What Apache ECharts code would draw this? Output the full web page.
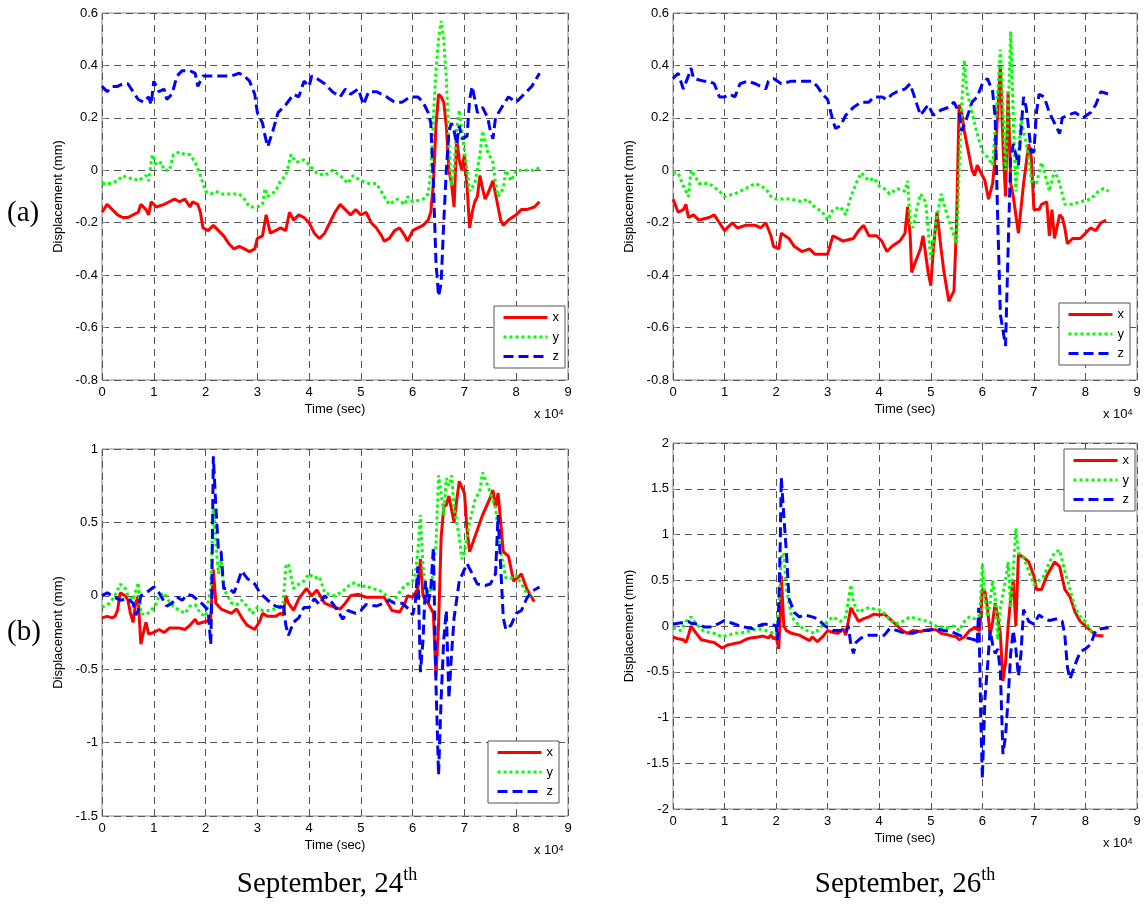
<!DOCTYPE html>
<html>
<head>
<meta charset="utf-8">
<script src="https://cdn.jsdelivr.net/npm/echarts@6/dist/echarts.min.js"></script>
<style>
html,body{margin:0;padding:0;background:#fff;}
#chart{width:1145px;height:905px;}
</style>
</head>
<body>
<div id="chart"></div>
<script>
// Time values are in units of 10^4 sec, displacement in mm
const xTicks = [0,1,2,3,4,5,6,7,8,9];
const seriesNames = ['x','y','z'];
const panelTitles = ['September, 24', 'September, 26'];
const rowLabels = ['(a)', '(b)'];

// (a) September 24
const sep24a_x = [[0,-0.16],[0.1,-0.13],[0.2,-0.15],[0.3,-0.17],[0.4,-0.18],[0.5,-0.18],[0.6,-0.17],[0.7,-0.16],[0.75,-0.13],[0.85,-0.15],[0.9,-0.17],[0.95,-0.12],[1.05,-0.14],[1.2,-0.13],[1.3,-0.12],[1.4,-0.11],[1.5,-0.12],[1.6,-0.11],[1.7,-0.14],[1.75,-0.12],[1.85,-0.13],[1.9,-0.16],[1.95,-0.22],[2.05,-0.23],[2.15,-0.21],[2.25,-0.23],[2.35,-0.25],[2.45,-0.28],[2.55,-0.30],[2.65,-0.29],[2.75,-0.30],[2.85,-0.31],[2.95,-0.30],[3.0,-0.26],[3.1,-0.25],[3.17,-0.17],[3.25,-0.24],[3.35,-0.23],[3.45,-0.22],[3.55,-0.23],[3.62,-0.16],[3.7,-0.19],[3.8,-0.17],[3.9,-0.18],[4.0,-0.20],[4.1,-0.24],[4.2,-0.26],[4.3,-0.24],[4.4,-0.20],[4.5,-0.16],[4.6,-0.13],[4.7,-0.15],[4.8,-0.17],[4.9,-0.15],[5.0,-0.17],[5.1,-0.16],[5.2,-0.20],[5.3,-0.22],[5.4,-0.25],[5.45,-0.27],[5.55,-0.26],[5.65,-0.23],[5.75,-0.22],[5.85,-0.25],[5.9,-0.27],[6.0,-0.23],[6.1,-0.22],[6.2,-0.21],[6.3,-0.19],[6.35,-0.16],[6.4,-0.05],[6.45,0.17],[6.5,0.29],[6.55,0.28],[6.6,0.26],[6.65,0.17],[6.7,0.0],[6.75,-0.05],[6.8,-0.14],[6.85,0.12],[6.9,0.04],[6.95,0.0],[7.0,0.06],[7.05,-0.06],[7.1,-0.22],[7.15,-0.16],[7.2,-0.12],[7.25,-0.10],[7.3,-0.02],[7.35,-0.07],[7.4,-0.11],[7.45,-0.09],[7.55,-0.04],[7.6,-0.09],[7.65,-0.14],[7.7,-0.19],[7.75,-0.21],[7.85,-0.19],[8.0,-0.17],[8.1,-0.15],[8.2,-0.15],[8.35,-0.14],[8.45,-0.12]];
const sep24a_y = [[0,-0.05],[0.15,-0.05],[0.3,-0.04],[0.4,-0.02],[0.5,-0.03],[0.6,-0.03],[0.7,-0.04],[0.85,-0.02],[0.9,-0.04],[0.97,0.06],[1.05,0.02],[1.15,0.03],[1.2,0.0],[1.3,0.0],[1.38,0.06],[1.5,0.07],[1.6,0.06],[1.7,0.06],[1.8,0.03],[1.9,-0.02],[2.0,-0.08],[2.1,-0.09],[2.2,-0.08],[2.3,-0.09],[2.5,-0.09],[2.65,-0.09],[2.75,-0.11],[2.85,-0.14],[3.0,-0.14],[3.1,-0.13],[3.15,-0.07],[3.2,-0.10],[3.35,-0.08],[3.45,-0.04],[3.55,-0.02],[3.65,0.06],[3.75,0.03],[3.9,0.04],[4.0,0.02],[4.15,-0.01],[4.3,-0.02],[4.45,0.0],[4.6,-0.02],[4.75,-0.05],[4.85,-0.02],[5.0,-0.04],[5.15,-0.05],[5.3,-0.05],[5.45,-0.10],[5.55,-0.13],[5.7,-0.11],[5.85,-0.13],[5.9,-0.10],[6.0,-0.12],[6.2,-0.11],[6.3,-0.09],[6.35,0.0],[6.4,0.2],[6.45,0.38],[6.5,0.50],[6.55,0.57],[6.6,0.50],[6.65,0.35],[6.7,0.1],[6.75,-0.06],[6.8,0.0],[6.85,0.16],[6.9,0.23],[6.95,0.15],[7.05,0.0],[7.1,-0.08],[7.2,-0.05],[7.3,0.06],[7.35,0.15],[7.45,0.07],[7.55,0.03],[7.6,-0.05],[7.65,-0.10],[7.75,-0.07],[7.8,0.0],[7.9,-0.04],[8.0,0.0],[8.2,0.0],[8.35,0.0],[8.45,0.01]];
const sep24a_z = [[0,0.32],[0.1,0.30],[0.2,0.32],[0.3,0.32],[0.4,0.33],[0.5,0.33],[0.6,0.30],[0.7,0.27],[0.8,0.26],[0.9,0.28],[0.95,0.25],[1.0,0.34],[1.1,0.30],[1.2,0.31],[1.25,0.27],[1.35,0.29],[1.45,0.36],[1.55,0.38],[1.7,0.38],[1.8,0.37],[1.85,0.32],[1.95,0.36],[2.1,0.36],[2.3,0.36],[2.5,0.36],[2.65,0.37],[2.75,0.36],[2.85,0.34],[2.95,0.29],[3.0,0.22],[3.1,0.18],[3.15,0.13],[3.2,0.09],[3.3,0.15],[3.4,0.22],[3.55,0.25],[3.7,0.29],[3.8,0.28],[3.9,0.34],[4.0,0.32],[4.05,0.36],[4.15,0.35],[4.3,0.33],[4.45,0.30],[4.6,0.28],[4.7,0.31],[4.8,0.29],[4.95,0.31],[5.05,0.25],[5.15,0.30],[5.3,0.30],[5.5,0.28],[5.65,0.26],[5.8,0.26],[5.95,0.28],[6.1,0.28],[6.2,0.26],[6.3,0.22],[6.35,0.18],[6.4,-0.05],[6.45,-0.35],[6.5,-0.48],[6.55,-0.43],[6.6,-0.2],[6.65,0.0],[6.7,0.15],[6.75,0.18],[6.8,0.15],[6.85,0.10],[6.9,0.17],[6.95,0.12],[7.05,0.13],[7.1,0.27],[7.15,0.32],[7.25,0.22],[7.35,0.24],[7.45,0.20],[7.5,0.15],[7.55,0.12],[7.6,0.20],[7.75,0.25],[7.85,0.28],[8.0,0.26],[8.15,0.29],[8.3,0.32],[8.45,0.37]];

// (a) September 26
const sep26a_x = [[0,-0.11],[0.1,-0.16],[0.2,-0.15],[0.25,-0.13],[0.3,-0.18],[0.4,-0.17],[0.5,-0.19],[0.7,-0.18],[0.8,-0.17],[0.9,-0.20],[1.0,-0.23],[1.15,-0.20],[1.25,-0.22],[1.4,-0.21],[1.6,-0.21],[1.7,-0.22],[1.8,-0.20],[1.9,-0.25],[1.95,-0.29],[2.05,-0.30],[2.1,-0.24],[2.25,-0.26],[2.35,-0.29],[2.5,-0.31],[2.65,-0.30],[2.75,-0.32],[2.9,-0.32],[3.0,-0.32],[3.1,-0.25],[3.2,-0.26],[3.3,-0.27],[3.5,-0.26],[3.6,-0.23],[3.7,-0.21],[3.8,-0.25],[3.95,-0.25],[4.05,-0.27],[4.15,-0.31],[4.25,-0.29],[4.4,-0.27],[4.5,-0.24],[4.55,-0.14],[4.6,-0.25],[4.63,-0.39],[4.7,-0.35],[4.8,-0.30],[4.85,-0.25],[4.95,-0.39],[5.0,-0.44],[5.05,-0.30],[5.12,-0.16],[5.2,-0.30],[5.25,-0.38],[5.35,-0.50],[5.45,-0.46],[5.5,-0.20],[5.55,0.25],[5.6,0.22],[5.65,0.15],[5.75,0.05],[5.8,0.0],[5.85,-0.02],[5.9,0.02],[6.0,-0.02],[6.05,-0.04],[6.12,-0.11],[6.2,-0.05],[6.25,0.05],[6.35,0.40],[6.4,0.10],[6.45,-0.10],[6.5,0.30],[6.55,-0.05],[6.6,-0.10],[6.7,-0.24],[6.8,-0.05],[6.9,0.10],[6.95,0.05],[7.0,-0.15],[7.1,-0.15],[7.15,-0.13],[7.25,-0.12],[7.3,-0.25],[7.35,-0.15],[7.4,-0.26],[7.5,-0.17],[7.55,-0.18],[7.6,-0.22],[7.65,-0.28],[7.75,-0.26],[7.9,-0.26],[8.0,-0.24],[8.1,-0.22],[8.2,-0.23],[8.3,-0.20],[8.4,-0.19]];
const sep26a_y = [[0,-0.01],[0.1,-0.01],[0.2,-0.06],[0.3,-0.10],[0.35,0.0],[0.45,-0.03],[0.5,-0.05],[0.7,-0.05],[0.9,-0.08],[1.0,-0.10],[1.2,-0.09],[1.3,-0.08],[1.4,-0.07],[1.6,-0.05],[1.8,-0.07],[1.9,-0.10],[2.0,-0.11],[2.3,-0.11],[2.5,-0.12],[2.6,-0.11],[2.75,-0.14],[2.9,-0.16],[3.0,-0.19],[3.1,-0.15],[3.25,-0.14],[3.35,-0.17],[3.45,-0.10],[3.55,-0.05],[3.65,-0.01],[3.8,-0.04],[3.9,-0.03],[4.0,-0.06],[4.1,-0.07],[4.2,-0.09],[4.35,-0.07],[4.5,-0.08],[4.55,-0.04],[4.6,-0.20],[4.65,-0.22],[4.75,-0.13],[4.8,-0.09],[4.9,-0.12],[5.0,-0.34],[5.1,-0.20],[5.2,-0.09],[5.3,-0.16],[5.4,-0.22],[5.5,-0.28],[5.55,0.0],[5.6,0.25],[5.65,0.42],[5.7,0.30],[5.8,0.22],[5.9,0.14],[6.0,0.07],[6.1,0.05],[6.2,0.02],[6.3,0.30],[6.35,0.46],[6.45,0.0],[6.5,0.22],[6.55,0.53],[6.6,0.20],[6.65,-0.08],[6.75,0.20],[6.8,0.15],[6.9,0.05],[6.95,-0.04],[7.05,-0.05],[7.15,0.03],[7.25,-0.04],[7.3,-0.08],[7.4,0.0],[7.5,-0.05],[7.6,-0.13],[7.75,-0.13],[7.9,-0.12],[8.1,-0.11],[8.25,-0.08],[8.35,-0.07],[8.45,-0.08]];
const sep26a_z = [[0,0.35],[0.1,0.37],[0.2,0.31],[0.3,0.36],[0.35,0.39],[0.4,0.35],[0.6,0.34],[0.7,0.34],[0.8,0.33],[0.9,0.28],[1.0,0.28],[1.1,0.29],[1.2,0.28],[1.3,0.33],[1.45,0.34],[1.6,0.33],[1.7,0.32],[1.8,0.31],[1.85,0.34],[1.95,0.35],[2.1,0.33],[2.3,0.34],[2.5,0.34],[2.7,0.34],[2.8,0.32],[2.9,0.29],[3.0,0.27],[3.1,0.19],[3.15,0.16],[3.25,0.17],[3.35,0.21],[3.5,0.24],[3.65,0.26],[3.8,0.26],[3.9,0.28],[4.05,0.28],[4.15,0.27],[4.25,0.29],[4.35,0.30],[4.5,0.31],[4.6,0.33],[4.7,0.27],[4.8,0.21],[4.95,0.25],[5.05,0.21],[5.2,0.23],[5.35,0.24],[5.45,0.26],[5.55,0.22],[5.6,0.15],[5.7,0.20],[5.8,0.26],[5.9,0.28],[6.0,0.33],[6.1,0.35],[6.2,0.30],[6.25,0.20],[6.3,-0.20],[6.35,-0.55],[6.45,-0.67],[6.5,-0.30],[6.55,0.05],[6.6,0.10],[6.7,0.02],[6.8,0.28],[6.85,0.24],[6.95,0.07],[7.0,0.07],[7.05,0.22],[7.1,0.29],[7.2,0.28],[7.3,0.22],[7.4,0.18],[7.5,0.14],[7.55,0.20],[7.65,0.21],[7.8,0.22],[7.95,0.20],[8.1,0.22],[8.2,0.25],[8.3,0.30],[8.45,0.29]];

// (b) September 24
const sep24b_x = [[0,-0.15],[0.1,-0.14],[0.2,-0.15],[0.25,-0.14],[0.3,-0.10],[0.35,0.02],[0.45,0.0],[0.5,-0.03],[0.55,-0.12],[0.6,-0.18],[0.65,-0.05],[0.7,0.0],[0.72,-0.15],[0.75,-0.33],[0.8,-0.25],[0.85,-0.18],[0.9,-0.26],[1.0,-0.25],[1.1,-0.23],[1.2,-0.25],[1.3,-0.22],[1.5,-0.22],[1.6,-0.23],[1.7,-0.20],[1.8,-0.16],[1.85,-0.19],[1.95,-0.18],[2.05,-0.17],[2.1,-0.15],[2.15,0.18],[2.2,-0.05],[2.3,-0.09],[2.5,-0.12],[2.6,-0.09],[2.7,-0.15],[2.8,-0.20],[2.95,-0.23],[3.05,-0.17],[3.1,-0.12],[3.2,-0.14],[3.35,-0.14],[3.45,-0.12],[3.5,-0.13],[3.55,0.0],[3.6,-0.05],[3.7,-0.10],[3.8,-0.02],[3.95,0.05],[4.05,0.0],[4.15,0.04],[4.3,-0.05],[4.5,-0.08],[4.6,-0.09],[4.7,-0.05],[4.8,0.0],[4.95,0.01],[5.1,-0.01],[5.3,-0.01],[5.45,-0.01],[5.6,-0.10],[5.75,-0.11],[5.85,-0.05],[5.9,0.0],[6.0,-0.01],[6.1,0.05],[6.15,0.25],[6.2,0.0],[6.3,-0.05],[6.4,-0.12],[6.45,-0.55],[6.5,-0.20],[6.55,0.40],[6.6,0.60],[6.65,0.62],[6.7,0.68],[6.8,0.50],[6.85,0.65],[6.9,0.78],[7.0,0.70],[7.05,0.45],[7.1,0.30],[7.2,0.40],[7.35,0.55],[7.5,0.67],[7.55,0.72],[7.6,0.60],[7.65,0.70],[7.7,0.50],[7.75,0.30],[7.85,0.27],[7.95,0.10],[8.05,0.13],[8.1,0.15],[8.2,0.05],[8.35,-0.04]];
const sep24b_y = [[0,-0.08],[0.15,-0.05],[0.25,0.0],[0.35,0.08],[0.45,0.05],[0.5,0.0],[0.6,-0.03],[0.7,0.09],[0.75,-0.12],[0.85,-0.13],[0.95,-0.10],[1.05,-0.05],[1.1,0.0],[1.2,0.02],[1.3,-0.04],[1.4,-0.08],[1.5,-0.10],[1.6,-0.12],[1.7,-0.07],[1.8,-0.06],[1.9,-0.12],[2.0,-0.14],[2.1,0.05],[2.15,0.60],[2.2,0.35],[2.25,0.15],[2.3,0.25],[2.35,0.05],[2.5,-0.05],[2.6,-0.06],[2.7,-0.03],[2.8,-0.07],[2.9,-0.12],[3.0,-0.08],[3.1,-0.10],[3.25,-0.10],[3.4,-0.08],[3.5,-0.05],[3.55,0.20],[3.6,0.22],[3.7,0.05],[3.8,0.08],[3.9,0.10],[4.0,0.15],[4.1,0.12],[4.2,0.13],[4.3,0.02],[4.5,0.0],[4.65,0.03],[4.8,0.08],[4.9,0.09],[5.0,0.06],[5.1,0.07],[5.2,0.05],[5.35,0.04],[5.5,0.0],[5.6,-0.05],[5.7,0.0],[5.8,0.05],[5.9,0.08],[6.0,0.10],[6.05,0.15],[6.1,0.30],[6.15,0.55],[6.2,0.20],[6.25,0.05],[6.35,0.02],[6.45,0.35],[6.5,0.82],[6.55,0.70],[6.6,0.55],[6.65,0.80],[6.7,0.75],[6.75,0.82],[6.8,0.60],[6.9,0.40],[6.95,0.25],[7.0,0.30],[7.1,0.50],[7.2,0.65],[7.3,0.72],[7.35,0.84],[7.45,0.75],[7.5,0.70],[7.6,0.60],[7.7,0.30],[7.8,0.12],[7.9,0.12],[8.0,0.14],[8.1,0.08],[8.2,0.02],[8.3,0.0]];
const sep24b_z = [[0,0.0],[0.1,0.02],[0.2,0.0],[0.35,-0.03],[0.5,-0.02],[0.6,-0.05],[0.65,-0.13],[0.7,-0.10],[0.75,0.0],[0.85,0.02],[1.0,0.06],[1.1,0.02],[1.25,-0.07],[1.35,-0.05],[1.45,-0.01],[1.55,-0.03],[1.65,0.01],[1.75,0.0],[1.85,-0.03],[1.95,-0.06],[2.05,-0.10],[2.1,-0.33],[2.12,0.0],[2.15,0.95],[2.2,0.60],[2.25,0.30],[2.3,0.30],[2.35,0.05],[2.45,0.05],[2.55,0.02],[2.65,0.12],[2.7,0.17],[2.8,0.12],[2.95,0.08],[3.05,0.02],[3.2,-0.03],[3.35,-0.07],[3.45,-0.08],[3.5,-0.05],[3.55,-0.20],[3.6,-0.27],[3.7,-0.18],[3.8,-0.15],[3.9,-0.08],[4.0,-0.08],[4.1,-0.02],[4.2,-0.06],[4.3,0.0],[4.45,-0.05],[4.55,-0.10],[4.65,-0.16],[4.75,-0.10],[4.9,-0.12],[5.0,-0.10],[5.1,-0.06],[5.3,-0.07],[5.45,-0.05],[5.55,-0.03],[5.65,-0.05],[5.8,-0.05],[5.95,-0.10],[6.0,-0.13],[6.05,-0.05],[6.1,0.20],[6.15,-0.52],[6.2,-0.30],[6.25,0.10],[6.3,-0.05],[6.35,0.05],[6.4,0.33],[6.45,-0.60],[6.5,-1.22],[6.55,-0.70],[6.6,-0.30],[6.65,-0.10],[6.7,-0.70],[6.75,-0.40],[6.8,-0.15],[6.9,0.10],[7.0,0.18],[7.05,0.22],[7.15,0.15],[7.25,0.08],[7.4,0.07],[7.5,0.08],[7.6,0.15],[7.65,0.55],[7.7,0.20],[7.75,-0.15],[7.8,-0.23],[7.9,-0.20],[8.0,-0.12],[8.1,-0.10],[8.2,-0.02],[8.3,0.03],[8.45,0.06]];

// (b) September 26
const sep26b_x = [[0,-0.12],[0.1,-0.14],[0.2,-0.15],[0.25,-0.18],[0.3,-0.10],[0.35,0.0],[0.45,-0.08],[0.55,-0.15],[0.7,-0.17],[0.8,-0.18],[0.9,-0.22],[0.95,-0.24],[1.05,-0.21],[1.2,-0.19],[1.3,-0.18],[1.4,-0.15],[1.5,-0.13],[1.65,-0.12],[1.75,-0.11],[1.85,-0.13],[1.9,-0.10],[1.95,-0.14],[2.0,-0.12],[2.05,-0.25],[2.08,0.10],[2.1,0.55],[2.15,0.0],[2.2,-0.05],[2.3,-0.08],[2.45,-0.10],[2.55,-0.13],[2.65,-0.16],[2.7,-0.12],[2.8,-0.17],[2.9,-0.12],[3.0,-0.05],[3.1,-0.07],[3.2,-0.08],[3.3,-0.03],[3.35,-0.10],[3.45,0.20],[3.5,0.15],[3.6,0.05],[3.7,0.08],[3.8,0.10],[3.9,0.13],[4.0,0.12],[4.1,0.13],[4.2,0.08],[4.3,0.03],[4.45,-0.05],[4.55,-0.08],[4.65,-0.05],[4.8,-0.06],[4.95,-0.04],[5.1,-0.04],[5.2,-0.08],[5.35,-0.10],[5.5,-0.12],[5.55,-0.15],[5.65,-0.12],[5.75,-0.05],[5.85,-0.02],[5.95,-0.05],[6.0,0.40],[6.05,0.38],[6.1,0.20],[6.15,-0.10],[6.2,0.05],[6.25,0.25],[6.3,0.10],[6.35,-0.10],[6.4,-0.60],[6.45,-0.40],[6.5,0.0],[6.55,0.30],[6.6,0.50],[6.65,0.0],[6.7,0.78],[6.8,0.75],[6.9,0.70],[7.0,0.55],[7.05,0.40],[7.15,0.40],[7.25,0.55],[7.4,0.70],[7.5,0.65],[7.6,0.40],[7.7,0.32],[7.8,0.15],[7.9,0.05],[8.0,0.0],[8.1,-0.05],[8.2,-0.10],[8.35,-0.11]];
const sep26b_y = [[0,-0.02],[0.15,-0.05],[0.25,0.05],[0.35,0.10],[0.45,0.02],[0.6,-0.06],[0.8,-0.08],[0.95,-0.12],[1.05,-0.10],[1.2,-0.08],[1.4,-0.07],[1.5,-0.05],[1.65,-0.03],[1.8,-0.05],[1.95,-0.08],[2.0,-0.10],[2.05,0.20],[2.1,0.75],[2.15,0.80],[2.2,0.40],[2.3,0.10],[2.45,0.0],[2.6,-0.05],[2.75,-0.08],[2.85,-0.02],[3.0,0.05],[3.1,0.10],[3.25,0.05],[3.35,0.10],[3.45,0.45],[3.5,0.25],[3.6,0.15],[3.7,0.18],[3.8,0.20],[3.95,0.18],[4.05,0.17],[4.15,0.10],[4.3,0.02],[4.45,0.05],[4.6,0.10],[4.8,0.07],[4.95,0.05],[5.1,0.0],[5.3,-0.02],[5.45,0.0],[5.55,-0.05],[5.65,0.05],[5.75,0.10],[5.85,0.08],[5.95,0.12],[6.0,0.68],[6.05,0.30],[6.1,0.10],[6.15,0.25],[6.2,0.50],[6.25,0.30],[6.3,-0.15],[6.35,0.20],[6.45,0.50],[6.5,0.70],[6.55,0.20],[6.6,0.60],[6.65,1.07],[6.7,0.80],[6.8,0.75],[6.9,0.60],[7.0,0.45],[7.1,0.50],[7.2,0.55],[7.3,0.70],[7.4,0.80],[7.5,0.83],[7.6,0.60],[7.7,0.40],[7.8,0.20],[7.9,0.10],[8.0,0.05],[8.1,-0.05],[8.2,-0.10]];
const sep26b_z = [[0,0.02],[0.1,0.03],[0.2,0.04],[0.3,0.05],[0.35,0.03],[0.5,0.02],[0.6,-0.01],[0.75,-0.01],[0.9,0.03],[1.0,0.06],[1.15,0.03],[1.3,0.0],[1.45,-0.02],[1.55,-0.03],[1.65,0.0],[1.75,0.02],[1.9,0.02],[2.0,0.0],[2.03,-0.15],[2.05,0.20],[2.08,0.90],[2.1,1.62],[2.15,1.20],[2.2,0.80],[2.25,0.30],[2.35,0.15],[2.45,0.10],[2.55,0.12],[2.7,0.10],[2.8,0.08],[2.95,0.0],[3.1,-0.05],[3.25,-0.05],[3.35,-0.08],[3.4,0.0],[3.45,-0.20],[3.5,-0.30],[3.55,-0.18],[3.65,-0.13],[3.8,-0.10],[3.95,-0.10],[4.1,-0.10],[4.2,-0.03],[4.35,-0.05],[4.5,-0.08],[4.65,-0.08],[4.8,-0.05],[4.95,-0.05],[5.1,-0.03],[5.25,-0.05],[5.4,-0.06],[5.55,-0.10],[5.7,-0.13],[5.85,-0.15],[5.9,-0.20],[5.93,0.20],[5.97,-1.00],[6.0,-1.67],[6.05,-0.80],[6.1,-0.45],[6.15,-0.05],[6.2,-0.20],[6.25,-0.30],[6.3,-0.25],[6.35,-0.50],[6.4,-1.40],[6.45,-1.20],[6.5,-0.80],[6.55,-0.30],[6.6,-0.05],[6.65,-0.25],[6.7,-0.55],[6.75,-0.30],[6.8,0.18],[6.9,0.05],[7.0,0.02],[7.1,0.12],[7.2,0.08],[7.3,0.06],[7.45,0.08],[7.55,0.05],[7.6,-0.10],[7.65,-0.45],[7.7,-0.58],[7.8,-0.42],[7.9,-0.28],[8.0,-0.25],[8.1,-0.20],[8.2,-0.05],[8.3,-0.03],[8.45,-0.02]];

// y-axis ranges per panel [min, max, interval]
const yRangeA = [-0.8, 0.6, 0.2];
const yRangeB24 = [-1.5, 1, 0.5];
const yRangeB26 = [-2, 2, 0.5];

const panels = [
  {grid:{left:102, top:13, width:466, height:367}, yr:yRangeA, data:[sep24a_x, sep24a_y, sep24a_z], legend:{left:494, top:306}},
  {grid:{left:673, top:13, width:464, height:367}, yr:yRangeA, data:[sep26a_x, sep26a_y, sep26a_z], legend:{left:1059, top:303}},
  {grid:{left:102, top:449, width:466, height:367}, yr:yRangeB24, data:[sep24b_x, sep24b_y, sep24b_z], legend:{left:488, top:741}},
  {grid:{left:673, top:443, width:464, height:366}, yr:yRangeB26, data:[sep26b_x, sep26b_y, sep26b_z], legend:{left:1064, top:449}}
];

const SANS = '"Liberation Sans", Arial, sans-serif';
const SERIF = '"Liberation Serif", "Times New Roman", serif';
const lineStyles = {
  x: {color:'#ff0000', width:3, type:'solid'},
  y: {color:'#00ff00', width:3, type:[3,3]},
  z: {color:'#0000ff', width:3, type:[10,5]}
};

const grids = [], xAxes = [], yAxes = [], series = [], legends = [], graphics = [];
panels.forEach((p, i) => {
  grids.push(Object.assign({show:true, borderColor:'#888', borderWidth:1, backgroundColor:'#fff', containLabel:false}, p.grid));
  xAxes.push({
    type:'value', gridIndex:i, min:0, max:9, interval:1,
    name:'Time (sec)', nameLocation:'middle', nameGap:23,
    nameTextStyle:{fontFamily:SANS, fontSize:13, color:'#000'},
    axisLine:{show:false}, axisTick:{show:true, inside:true, length:4, lineStyle:{color:'#888'}},
    axisLabel:{fontFamily:SANS, fontSize:13, color:'#000', margin:6},
    splitLine:{show:true, lineStyle:{color:'#555', width:1, type:[7,5]}}
  });
  yAxes.push({
    type:'value', gridIndex:i, min:p.yr[0], max:p.yr[1], interval:p.yr[2],
    name:'Displacement (mm)', nameLocation:'middle', nameGap:37,
    nameTextStyle:{fontFamily:SANS, fontSize:13, color:'#000'},
    axisLine:{show:false}, axisTick:{show:true, inside:true, length:4, lineStyle:{color:'#888'}},
    axisLabel:{fontFamily:SANS, fontSize:13, color:'#000', margin:4},
    splitLine:{show:true, lineStyle:{color:'#555', width:1, type:[7,5]}}
  });
  seriesNames.forEach((n, k) => {
    series.push({
      name:n, type:'line', xAxisIndex:i, yAxisIndex:i, data:p.data[k],
      symbol:'none', showSymbol:false, smooth:false, animation:false,
      lineStyle:lineStyles[n], itemStyle:{color:lineStyles[n].color}, z:2+k
    });
  });
  legends.push({
    orient:'vertical', left:p.legend.left, top:p.legend.top,
    itemWidth:44, itemHeight:14, itemGap:6.5, padding:[5,6,5,8],
    borderColor:'#555', borderWidth:1, backgroundColor:'#fff',
    itemStyle:{color:'rgba(0,0,0,0)', borderWidth:0, opacity:0},
    lineStyle:{width:3},
    textStyle:{fontFamily:SANS, fontSize:13, color:'#000'},
    data:seriesNames, selectedMode:false
  });
  const right = p.grid.left + p.grid.width + 1;
  const ybot = p.grid.top + p.grid.height;
  graphics.push({
    type:'text', left:right - 35, top:ybot + 28,
    style:{text:'x 10{s|4}', fontFamily:SANS, fontSize:13, fill:'#000',
      rich:{s:{fontSize:9, fontFamily:SANS, verticalAlign:'top', lineHeight:12, fill:'#000'}}}
  });
});

rowLabels.forEach((t, r) => {
  graphics.push({type:'text', left:7, top:[199, 618][r], style:{text:t, fontFamily:SERIF, fontSize:29, fill:'#000'}});
});
[[327, 866], [905, 866]].forEach((pos, c) => {
  graphics.push({
    type:'text', x:pos[0], y:pos[1],
    style:{text:panelTitles[c] + '{t|th}', fontFamily:SERIF, fontSize:29, fill:'#000', align:'center', verticalAlign:'top', lineHeight:36,
      rich:{t:{fontFamily:SERIF, fontSize:18, verticalAlign:'top', lineHeight:22, fill:'#000'}}}
  });
});

const chart = echarts.init(document.getElementById('chart'), null, {renderer:'canvas'});
chart.setOption({
  animation:false,
  backgroundColor:'#fff',
  grid:grids, xAxis:xAxes, yAxis:yAxes, series:series, legend:legends, graphic:graphics
});
</script>
</body>
</html>
